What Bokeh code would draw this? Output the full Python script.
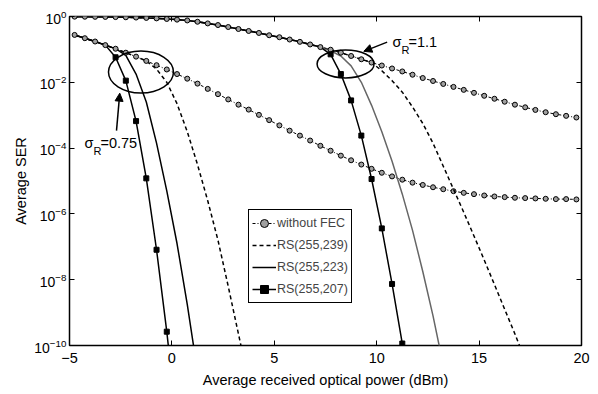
import numpy as np
from bokeh.plotting import figure
from bokeh.models import (FixedTicker, LinearAxis, LogAxis, Legend, LegendItem,
                          Arrow, NormalHead, Label)
from bokeh.embed import file_html
from bokeh.resources import INLINE

FONT = "Liberation Sans"

# x sample points (dBm) at which the curves / markers were read
power_dbm = list(np.arange(-4.75, 20.0, 0.5))

# log10(SER), without FEC
wofec_075_log = [-0.56, -0.66, -0.76, -0.87, -0.98, -1.10, -1.22, -1.35, -1.48, -1.61,
                 -1.75, -1.89, -2.04, -2.20, -2.36, -2.52, -2.68, -2.83, -2.99, -3.15,
                 -3.31, -3.47, -3.62, -3.77, -3.93, -4.08, -4.23, -4.37, -4.50, -4.63,
                 -4.75, -4.86, -4.96, -5.05, -5.12, -5.19, -5.25, -5.31, -5.36, -5.40,
                 -5.44, -5.47, -5.49, -5.51, -5.52, -5.53, -5.54, -5.55, -5.55, -5.56]
wofec_11_log = [-0.005, -0.007, -0.010, -0.013, -0.018, -0.024, -0.032, -0.043, -0.057, -0.075,
                -0.095, -0.12, -0.16, -0.21, -0.26, -0.32, -0.38, -0.44, -0.50, -0.57,
                -0.63, -0.70, -0.77, -0.85, -0.93, -1.01, -1.10, -1.20, -1.30, -1.40,
                -1.49, -1.58, -1.67, -1.77, -1.87, -1.96, -2.05, -2.14, -2.23, -2.32,
                -2.41, -2.50, -2.59, -2.68, -2.76, -2.84, -2.91, -2.97, -3.02, -3.07]

# RS decoded SER (log10), continuing after the point where they leave the uncoded curve
rs207_075_tail = [-1.24, -1.95, -3.18, -4.92, -7.09, -9.58, -12.4]
rs223_075_tail = [-1.18, -1.75, -2.60, -3.85, -5.30, -6.90, -8.75, -10.8]
rs239_075_tail = [-1.60, -2.00, -2.65, -3.50, -4.50, -5.60, -6.80, -8.20, -9.65, -11.1]
rs207_11_tail = [-1.15, -1.75, -2.55, -3.62, -4.94, -6.44, -8.13, -9.94, -11.9]
rs223_11_tail = [-1.04, -1.20, -1.50, -2.00, -2.70, -3.50, -4.40, -5.40, -6.50, -7.75, -9.10, -10.6]
rs239_11_tail = [-1.65, -1.95, -2.30, -2.75, -3.25, -3.85, -4.55, -5.25, -5.95, -6.67,
                 -7.40, -8.15, -8.90, -9.65, -10.45]

y_tick_values = [1e0, 1e-2, 1e-4, 1e-6, 1e-8, 1e-10]
x_tick_values = [-5, 0, 5, 10, 15, 20]
x_tick_labels = ["\u22125", "0", "5", "10", "15", "20"]

series_names = ["without FEC", "RS(255,239)", "RS(255,223)", "RS(255,207)"]


def curve(base, n_shared, tail):
    logs = list(base[:n_shared]) + list(tail)
    xs = power_dbm[:len(logs)]
    return xs, [10 ** v for v in logs]


p = figure(width=598, height=394, x_range=(-5, 20), y_range=(1e-10, 1),
           y_axis_type="log", output_backend="svg", toolbar_location=None,
           min_border_left=69, min_border_right=17, min_border_top=16,
           min_border_bottom=49)
p.background_fill_color = "white"
p.border_fill_color = "white"
p.xgrid.grid_line_color = None
p.ygrid.grid_line_color = None
p.outline_line_color = "black"
p.outline_line_width = 1.5
p.outline_line_alpha = 1.0

# axes
p.xaxis.ticker = FixedTicker(ticks=x_tick_values, minor_ticks=[])
p.xaxis.major_label_overrides = {v: l for v, l in zip(x_tick_values, x_tick_labels)}
p.yaxis.ticker = FixedTicker(ticks=y_tick_values, minor_ticks=[])
for ax in (p.xaxis[0], p.yaxis[0]):
    ax.axis_line_color = None
    ax.major_tick_in = 5
    ax.major_tick_out = 0
    ax.major_tick_line_width = 1
    ax.minor_tick_line_color = None
    ax.major_label_text_font = FONT
    ax.major_label_text_font_size = "14.5px"
    ax.major_label_text_color = "black"
    ax.axis_label_text_font = FONT
    ax.axis_label_text_font_size = "14.5px"
    ax.axis_label_text_font_style = "normal"
    ax.axis_label_text_color = "black"
p.yaxis.major_label_text_font_size = "14px"
p.xaxis.major_label_standoff = 7
p.xaxis.axis_label = "Average received optical power (dBm)"
p.xaxis.axis_label_standoff = 6
p.yaxis.major_label_standoff = 3
p.yaxis.axis_label = "Average SER"
p.yaxis.axis_label_standoff = 2

top_axis = LinearAxis(ticker=FixedTicker(ticks=x_tick_values, minor_ticks=[]),
                      major_label_text_font_size="0px", major_label_text_color=None,
                      axis_line_color=None, major_tick_in=5, major_tick_out=0,
                      minor_tick_line_color=None)
right_axis = LogAxis(ticker=FixedTicker(ticks=y_tick_values, minor_ticks=[]),
                     major_label_text_font_size="0px", major_label_text_color=None,
                     axis_line_color=None, major_tick_in=5, major_tick_out=0,
                     minor_tick_line_color=None)
p.add_layout(top_axis, "above")
p.add_layout(right_axis, "right")

legend_items = {name: [] for name in series_names}

for base, rs207_tail, rs223_tail, rs239_tail, n207, n223, n239, gray223 in [
        (wofec_075_log, rs207_075_tail, rs223_075_tail, rs239_075_tail, 4, 5, 8, False),
        (wofec_11_log, rs207_11_tail, rs223_11_tail, rs239_11_tail, 25, 25, 30, True)]:
    # RS(255,239) dashed
    xs, ys = curve(base, n239, rs239_tail)
    r239 = p.line(xs, ys, line_color="black", line_width=1.5, line_dash="4 3")
    # RS(255,223) solid
    xs, ys = curve(base, n223, rs223_tail)
    r223 = p.line(xs, ys, line_color="#666666" if gray223 else "black", line_width=1.5)
    # RS(255,207) solid with squares
    xs, ys = curve(base, n207, rs207_tail)
    r207 = p.line(xs, ys, line_color="black", line_width=1.5)
    r207m = p.scatter(xs[n207:], ys[n207:], marker="square", size=5,
                      fill_color="black", line_color="black")
    # without FEC
    yw = [10 ** v for v in base]
    rw = p.line(power_dbm, yw, line_color="black", line_width=1, line_dash="3 2 1 2")
    rwm = p.scatter(power_dbm, yw, marker="circle", size=5, fill_color="#a0a0a0",
                    line_color="black", line_width=1)
    if not gray223:
        legend_items["without FEC"] = [rw, rwm]
        legend_items["RS(255,239)"] = [r239]
        legend_items["RS(255,223)"] = [r223]
        legend_items["RS(255,207)"] = [r207, r207m]

# ellipses marking the onset region
p.ellipse(x=[-1.51, 8.48], y=[10 ** -1.69, 10 ** -1.44], width=[65, 57], height=[42, 28],
          width_units="screen", height_units="screen", fill_color=None,
          line_color="black", line_width=1.5)

# arrows
p.add_layout(Arrow(end=NormalHead(size=8, fill_color="black", line_color="black"),
                   x_start=-2.705, y_start=10 ** -3.47, x_end=-2.545, y_end=10 ** -2.33,
                   line_width=1.5, line_color="black"))
p.add_layout(Arrow(end=NormalHead(size=8, fill_color="black", line_color="black"),
                   x_start=10.51, y_start=10 ** -0.78, x_end=9.37, y_end=10 ** -1.06,
                   line_width=1.5, line_color="black"))

# sigma_R labels
def sigma_label(x, y, val):
    common = dict(text_font=FONT, text_color="black", text_baseline="middle", text_align="left")
    p.add_layout(Label(x=x, y=y, text="\u03c3", text_font_size="14.5px", **common))
    p.add_layout(Label(x=x, y=y, text="R", x_offset=9, y_offset=-8, text_font_size="11px", **common))
    p.add_layout(Label(x=x, y=y, text="=" + val, x_offset=16, y_offset=0, text_font_size="14.5px", **common))

sigma_label(-4.27, 10 ** -3.83, "0.75")
sigma_label(10.77, 10 ** -0.76, "1.1")

legend = Legend(items=[LegendItem(label=n, renderers=legend_items[n]) for n in series_names],
                location=(179, 42), orientation="vertical")
legend.border_line_color = "black"
legend.border_line_width = 1.5
legend.border_line_alpha = 1.0
legend.background_fill_color = "white"
legend.background_fill_alpha = 1.0
legend.label_text_font = FONT
legend.label_text_font_size = "12.5px"
legend.glyph_width = 24
legend.glyph_height = 20
legend.label_height = 20
legend.label_standoff = 1
legend.spacing = 2
legend.padding = 3
legend.margin = 0
p.add_layout(legend, "center")

open("out.html", "w").write(file_html(p, INLINE))
